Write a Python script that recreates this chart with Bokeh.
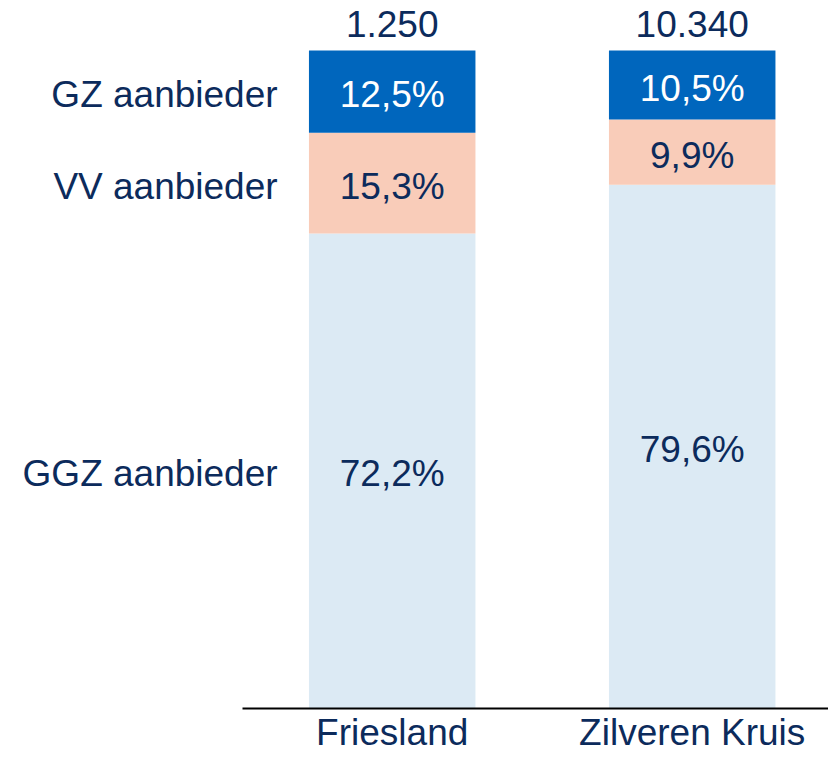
from bokeh.plotting import figure
from bokeh.models import ColumnDataSource, Range1d, FixedTicker
from bokeh.core.properties import value
from bokeh.embed import file_html
from bokeh.resources import INLINE

categories = ["Friesland", "Zilveren Kruis"]
segments = ["GGZ aanbieder", "VV aanbieder", "GZ aanbieder"]
ggz = [72.2, 79.6]
vv = [15.3, 9.9]
gz = [12.5, 10.5]
totals = ["1.250", "10.340"]

colors = {"GGZ aanbieder": "#DCEAF4", "VV aanbieder": "#F9CCB9", "GZ aanbieder": "#0066BD"}
label_colors = {"GGZ aanbieder": "#0C2B5C", "VV aanbieder": "#0C2B5C", "GZ aanbieder": "#FFFFFF"}
navy = "#0C2B5C"
font = value("Liberation Sans")
fsize = "37px"

W, H = 828, 755
PX_X = 300.0   # px per category unit
PX_Y = 658.0   # px per 100%
x0_px = 391.7
base_px = 708.0

p = figure(width=W, height=H, output_backend="svg", toolbar_location=None,
           x_range=Range1d(-x0_px / PX_X, (W - x0_px) / PX_X),
           y_range=Range1d(-(H - base_px) / PX_Y * 100, base_px / PX_Y * 100),
           min_border=0, min_border_left=0, min_border_right=0,
           min_border_top=0, min_border_bottom=0)
p.outline_line_color = None
p.xgrid.visible = False
p.ygrid.visible = False
p.yaxis.visible = False
p.background_fill_color = "white"
p.border_fill_color = "white"

xs = list(range(len(categories)))
data = {"GGZ aanbieder": ggz, "VV aanbieder": vv, "GZ aanbieder": gz}

bottom = [0.0] * len(categories)
for seg in segments:
    vals = data[seg]
    top = [b + v for b, v in zip(bottom, vals)]
    mid = [(b + t) / 2 for b, t in zip(bottom, top)]
    src = ColumnDataSource(dict(x=xs, bottom=bottom, top=top, mid=mid,
                                lab=[f"{v:.1f}".replace(".", ",") + "%" for v in vals]))
    p.vbar(x="x", bottom="bottom", top="top", width=166.5 / PX_X, source=src,
           fill_color=colors[seg], line_color=None)
    p.text(x="x", y="mid", text="lab", source=src, text_align="center",
           text_baseline="middle", text_font=font, text_font_size=fsize,
           text_color=label_colors[seg], y_offset=3)
    # left segment labels aligned to first bar
    p.text(x=[xs[0] - 0.382], y=[mid[0]], text=[seg], text_align="right",
           text_baseline="middle", text_font=font, text_font_size=fsize,
           text_color=navy, y_offset=3)
    bottom = top

tsrc = ColumnDataSource(dict(x=xs, y=bottom, t=totals))
p.text(x="x", y="y", text="t", source=tsrc, text_align="center",
       text_baseline="middle", text_font=font, text_font_size=fsize,
       text_color=navy, y_offset=-27)

ax = p.xaxis[0]
ax.fixed_location = 0
ax.bounds = (-(x0_px - 242) / PX_X, (W - x0_px) / PX_X)
ax.ticker = FixedTicker(ticks=xs)
ax.major_label_overrides = {i: c for i, c in enumerate(categories)}
ax.major_tick_line_color = None
ax.minor_tick_line_color = None
ax.axis_line_color = "black"
ax.axis_line_width = 2
ax.major_label_text_font = "Liberation Sans"
ax.major_label_text_font_size = fsize
ax.major_label_text_color = navy
ax.major_label_standoff = -3

open("out.html", "w").write(file_html(p, INLINE))
